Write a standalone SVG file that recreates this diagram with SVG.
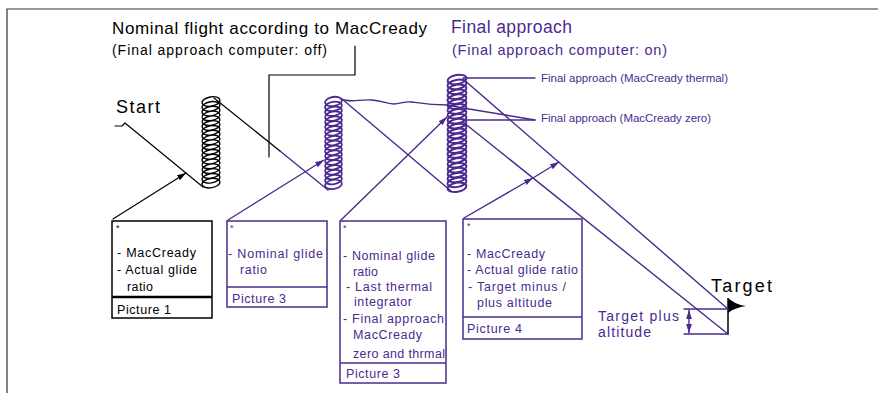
<svg xmlns="http://www.w3.org/2000/svg" width="878" height="393" viewBox="0 0 878 393">
<style>
text{font-family:"Liberation Sans",Arial,sans-serif}
.k{fill:#000}
.p{fill:#4b2a8f}
.bt{font-size:12.5px}
.ln{fill:none;stroke-linecap:round;stroke-linejoin:round}
.lk{stroke:#000;stroke-width:1.2}
.lp{stroke:#4b2a8f;stroke-width:1.4}
</style>
<defs>
<marker id="ak" viewBox="0 0 10 10" refX="10" refY="5" markerWidth="9" markerHeight="9" markerUnits="userSpaceOnUse" orient="auto-start-reverse"><path d="M0,1.8 L10,5 L0,8.2 z" fill="#000"/></marker>
<marker id="ap" viewBox="0 0 10 10" refX="10" refY="5" markerWidth="9" markerHeight="9" markerUnits="userSpaceOnUse" orient="auto-start-reverse"><path d="M0,1.8 L10,5 L0,8.2 z" fill="#4b2a8f"/></marker>
</defs>

<g id="frame" fill="none" stroke="#333" stroke-width="1.2">
<path d="M7,393 V9 H878"/>
</g>

<g id="titles">
<text class="k" x="112" y="34" font-size="17" textLength="315" lengthAdjust="spacing">Nominal flight according to MacCready</text>
<text class="k" x="112" y="55" font-size="14" textLength="215" lengthAdjust="spacing">(Final approach computer: off)</text>
<text class="p" x="451" y="33" font-size="17.5" textLength="121" lengthAdjust="spacing">Final approach</text>
<text class="p" x="452" y="55" font-size="14.5" textLength="215" lengthAdjust="spacing">(Final approach computer: on)</text>
</g>

<g id="start">
<text class="k" x="116" y="113" font-size="18" textLength="44" lengthAdjust="spacing">Start</text>
</g>

<g id="coil1" fill="none" stroke="#000" stroke-width="1.4">
<path d="M202.14,103.06 a9,4.5 -10 1 0 17.72,-3.12a9,4.5 -10 1 0 -17.72,3.12m0,4.8a9,4.5 -10 1 0 17.72,-3.12a9,4.5 -10 1 0 -17.72,3.12m0,4.8a9,4.5 -10 1 0 17.72,-3.12a9,4.5 -10 1 0 -17.72,3.12m0,4.8a9,4.5 -10 1 0 17.72,-3.12a9,4.5 -10 1 0 -17.72,3.12m0,4.8a9,4.5 -10 1 0 17.72,-3.12a9,4.5 -10 1 0 -17.72,3.12m0,4.8a9,4.5 -10 1 0 17.72,-3.12a9,4.5 -10 1 0 -17.72,3.12m0,4.8a9,4.5 -10 1 0 17.72,-3.12a9,4.5 -10 1 0 -17.72,3.12m0,4.8a9,4.5 -10 1 0 17.72,-3.12a9,4.5 -10 1 0 -17.72,3.12m0,4.8a9,4.5 -10 1 0 17.72,-3.12a9,4.5 -10 1 0 -17.72,3.12m0,4.8a9,4.5 -10 1 0 17.72,-3.12a9,4.5 -10 1 0 -17.72,3.12m0,4.8a9,4.5 -10 1 0 17.72,-3.12a9,4.5 -10 1 0 -17.72,3.12m0,4.8a9,4.5 -10 1 0 17.72,-3.12a9,4.5 -10 1 0 -17.72,3.12m0,4.8a9,4.5 -10 1 0 17.72,-3.12a9,4.5 -10 1 0 -17.72,3.12m0,4.8a9,4.5 -10 1 0 17.72,-3.12a9,4.5 -10 1 0 -17.72,3.12m0,4.8a9,4.5 -10 1 0 17.72,-3.12a9,4.5 -10 1 0 -17.72,3.12m0,4.8a9,4.5 -10 1 0 17.72,-3.12a9,4.5 -10 1 0 -17.72,3.12m0,4.8a9,4.5 -10 1 0 17.72,-3.12a9,4.5 -10 1 0 -17.72,3.12m0,4.8a9,4.5 -10 1 0 17.72,-3.12a9,4.5 -10 1 0 -17.72,3.12"/>
</g>

<g id="coil2" fill="none" stroke="#4b2a8f" stroke-width="1.8">
<path d="M325.13,102.98 a8.5,4.5 -10 1 0 16.74,-2.95a8.5,4.5 -10 1 0 -16.74,2.95m0,4.88a8.5,4.5 -10 1 0 16.74,-2.95a8.5,4.5 -10 1 0 -16.74,2.95m0,4.88a8.5,4.5 -10 1 0 16.74,-2.95a8.5,4.5 -10 1 0 -16.74,2.95m0,4.88a8.5,4.5 -10 1 0 16.74,-2.95a8.5,4.5 -10 1 0 -16.74,2.95m0,4.88a8.5,4.5 -10 1 0 16.74,-2.95a8.5,4.5 -10 1 0 -16.74,2.95m0,4.88a8.5,4.5 -10 1 0 16.74,-2.95a8.5,4.5 -10 1 0 -16.74,2.95m0,4.88a8.5,4.5 -10 1 0 16.74,-2.95a8.5,4.5 -10 1 0 -16.74,2.95m0,4.88a8.5,4.5 -10 1 0 16.74,-2.95a8.5,4.5 -10 1 0 -16.74,2.95m0,4.88a8.5,4.5 -10 1 0 16.74,-2.95a8.5,4.5 -10 1 0 -16.74,2.95m0,4.88a8.5,4.5 -10 1 0 16.74,-2.95a8.5,4.5 -10 1 0 -16.74,2.95m0,4.88a8.5,4.5 -10 1 0 16.74,-2.95a8.5,4.5 -10 1 0 -16.74,2.95m0,4.88a8.5,4.5 -10 1 0 16.74,-2.95a8.5,4.5 -10 1 0 -16.74,2.95m0,4.88a8.5,4.5 -10 1 0 16.74,-2.95a8.5,4.5 -10 1 0 -16.74,2.95m0,4.88a8.5,4.5 -10 1 0 16.74,-2.95a8.5,4.5 -10 1 0 -16.74,2.95m0,4.88a8.5,4.5 -10 1 0 16.74,-2.95a8.5,4.5 -10 1 0 -16.74,2.95m0,4.88a8.5,4.5 -10 1 0 16.74,-2.95a8.5,4.5 -10 1 0 -16.74,2.95m0,4.88a8.5,4.5 -10 1 0 16.74,-2.95a8.5,4.5 -10 1 0 -16.74,2.95m0,4.88a8.5,4.5 -10 1 0 16.74,-2.95a8.5,4.5 -10 1 0 -16.74,2.95"/>
</g>

<g id="coil3" fill="none" stroke="#4b2a8f" stroke-width="2">
<path d="M447.64,81.15 a9.5,4.5 -10 1 0 18.71,-3.3a9.5,4.5 -10 1 0 -18.71,3.3m0,4.9a9.5,4.5 -10 1 0 18.71,-3.3a9.5,4.5 -10 1 0 -18.71,3.3m0,4.9a9.5,4.5 -10 1 0 18.71,-3.3a9.5,4.5 -10 1 0 -18.71,3.3m0,4.9a9.5,4.5 -10 1 0 18.71,-3.3a9.5,4.5 -10 1 0 -18.71,3.3m0,4.9a9.5,4.5 -10 1 0 18.71,-3.3a9.5,4.5 -10 1 0 -18.71,3.3m0,4.9a9.5,4.5 -10 1 0 18.71,-3.3a9.5,4.5 -10 1 0 -18.71,3.3m0,4.9a9.5,4.5 -10 1 0 18.71,-3.3a9.5,4.5 -10 1 0 -18.71,3.3m0,4.9a9.5,4.5 -10 1 0 18.71,-3.3a9.5,4.5 -10 1 0 -18.71,3.3m0,4.9a9.5,4.5 -10 1 0 18.71,-3.3a9.5,4.5 -10 1 0 -18.71,3.3m0,4.9a9.5,4.5 -10 1 0 18.71,-3.3a9.5,4.5 -10 1 0 -18.71,3.3m0,4.9a9.5,4.5 -10 1 0 18.71,-3.3a9.5,4.5 -10 1 0 -18.71,3.3m0,4.9a9.5,4.5 -10 1 0 18.71,-3.3a9.5,4.5 -10 1 0 -18.71,3.3m0,4.9a9.5,4.5 -10 1 0 18.71,-3.3a9.5,4.5 -10 1 0 -18.71,3.3m0,4.9a9.5,4.5 -10 1 0 18.71,-3.3a9.5,4.5 -10 1 0 -18.71,3.3m0,4.9a9.5,4.5 -10 1 0 18.71,-3.3a9.5,4.5 -10 1 0 -18.71,3.3m0,4.9a9.5,4.5 -10 1 0 18.71,-3.3a9.5,4.5 -10 1 0 -18.71,3.3m0,4.9a9.5,4.5 -10 1 0 18.71,-3.3a9.5,4.5 -10 1 0 -18.71,3.3m0,4.9a9.5,4.5 -10 1 0 18.71,-3.3a9.5,4.5 -10 1 0 -18.71,3.3m0,4.9a9.5,4.5 -10 1 0 18.71,-3.3a9.5,4.5 -10 1 0 -18.71,3.3m0,4.9a9.5,4.5 -10 1 0 18.71,-3.3a9.5,4.5 -10 1 0 -18.71,3.3m0,4.9a9.5,4.5 -10 1 0 18.71,-3.3a9.5,4.5 -10 1 0 -18.71,3.3m0,4.9a9.5,4.5 -10 1 0 18.71,-3.3a9.5,4.5 -10 1 0 -18.71,3.3m0,4.9a9.5,4.5 -10 1 0 18.71,-3.3a9.5,4.5 -10 1 0 -18.71,3.3"/>
</g>

<g id="labels-final">
<text class="p" x="541" y="82" font-size="11.5" textLength="187" lengthAdjust="spacing">Final approach (MacCready thermal)</text>
<text class="p" x="541" y="122" font-size="11.5" textLength="170" lengthAdjust="spacing">Final approach (MacCready zero)</text>
</g>

<g id="box1">
<rect x="112" y="221" width="100" height="97" fill="#fff" stroke="#000" stroke-width="1.5"/>
<line x1="112" y1="297" x2="212" y2="297" stroke="#000" stroke-width="2.6"/>
<text class="k" x="116" y="231" font-size="9">*</text>
<text class="k bt" x="117" y="257" textLength="79" lengthAdjust="spacing">- MacCready</text>
<text class="k bt" x="117" y="274" textLength="80" lengthAdjust="spacing">- Actual glide</text>
<text class="k bt" x="127" y="291" textLength="26" lengthAdjust="spacing">ratio</text>
<text class="k bt" x="117" y="314" textLength="54" lengthAdjust="spacing">Picture 1</text>
</g>

<g id="box2">
<rect x="227" y="221" width="100" height="86" fill="#fff" stroke="#4b2a8f" stroke-width="1.5"/>
<line x1="227" y1="287" x2="327" y2="287" stroke="#4b2a8f" stroke-width="1.5"/>
<text class="p" x="230" y="231" font-size="9">*</text>
<text class="p bt" x="228" y="258" textLength="95" lengthAdjust="spacing">- Nominal glide</text>
<text class="p bt" x="240" y="274" textLength="27" lengthAdjust="spacing">ratio</text>
<text class="p bt" x="232" y="303" textLength="54" lengthAdjust="spacing">Picture 3</text>
</g>

<g id="box3">
<rect x="340" y="221" width="106" height="162" fill="#fff" stroke="#4b2a8f" stroke-width="1.5"/>
<line x1="340" y1="363" x2="446" y2="363" stroke="#4b2a8f" stroke-width="1.5"/>
<text class="p" x="343" y="231" font-size="9">*</text>
<text class="p bt" x="343" y="260" textLength="92" lengthAdjust="spacing">- Nominal glide</text>
<text class="p bt" x="353" y="276" textLength="25" lengthAdjust="spacing">ratio</text>
<text class="p bt" x="346" y="291" textLength="86" lengthAdjust="spacing">- Last thermal</text>
<text class="p bt" x="354" y="306" textLength="58" lengthAdjust="spacing">integrator</text>
<text class="p bt" x="343" y="323" textLength="101" lengthAdjust="spacing">- Final approach</text>
<text class="p bt" x="353" y="339" textLength="69" lengthAdjust="spacing">MacCready</text>
<text class="p bt" x="353" y="358" textLength="92" lengthAdjust="spacing">zero and thrmal</text>
<text class="p bt" x="346" y="378" textLength="54" lengthAdjust="spacing">Picture 3</text>
</g>

<g id="box4">
<rect x="463" y="219" width="119" height="120" fill="#fff" stroke="#4b2a8f" stroke-width="1.5"/>
<line x1="463" y1="317" x2="582" y2="317" stroke="#4b2a8f" stroke-width="1.5"/>
<text class="p" x="467" y="229" font-size="9">*</text>
<text class="p bt" x="467" y="258" textLength="78" lengthAdjust="spacing">- MacCready</text>
<text class="p bt" x="467" y="274" textLength="111" lengthAdjust="spacing">- Actual glide ratio</text>
<text class="p bt" x="468" y="291" textLength="98" lengthAdjust="spacing">- Target minus /</text>
<text class="p bt" x="477" y="307" textLength="75" lengthAdjust="spacing">plus altitude</text>
<text class="p bt" x="467" y="333" textLength="55" lengthAdjust="spacing">Picture 4</text>
</g>

<g id="target">
<text class="k" x="711" y="292" font-size="18" textLength="61" lengthAdjust="spacing">Target</text>
<path d="M728,298 C733,302 738,305 746,306 C739,307 733,309 728,313 Z" fill="#000"/>
<line x1="728" y1="298" x2="728" y2="334.5" stroke="#000" stroke-width="1.5"/>
<text class="p" x="598" y="321" font-size="14" textLength="81" lengthAdjust="spacing">Target plus</text>
<text class="p" x="598" y="336.5" font-size="14" textLength="53" lengthAdjust="spacing">altitude</text>
</g>

<g id="connectors">
<path class="ln lk" d="M115,126 H122 L125,123 L203,187"/>
<path class="ln lk" d="M214,98 L280,151"/>
<path class="ln lk" d="M355,46 V75 H269 V157"/>
<path class="ln lk" d="M113,219 L186,173" marker-end="url(#ak)"/>
<path class="ln lp" d="M280,151 L328,190"/>
<path class="ln lp" d="M342,99 L451,191"/>
<path class="ln lp" d="M341,99 C350,103 360,99 372,100 S388,104 394,104 S405,101 412,102 S430,105 448,105 L463,108 L535,120"/>
<path class="ln lp" d="M463,78 H535"/>
<path class="ln lp" d="M463,120 H535"/>
<path class="ln lp" d="M463,79 L728,309"/>
<path class="ln lp" d="M463,122 L728,334"/>
<path class="ln lp" d="M684,309 H728"/>
<path class="ln lp" d="M684,334 H728"/>
<path class="ln lp" d="M689,310 V333" marker-start="url(#ap)" marker-end="url(#ap)"/>
<path class="ln lp" d="M228,220 L324,160" marker-end="url(#ap)"/>
<path class="ln lp" d="M341,220 L447,117" marker-end="url(#ap)"/>
<path class="ln lp" d="M464,218 L533,178" marker-end="url(#ap)"/>
<path class="ln lp" d="M533,178 L559,162" marker-end="url(#ap)"/>
</g>
</svg>
